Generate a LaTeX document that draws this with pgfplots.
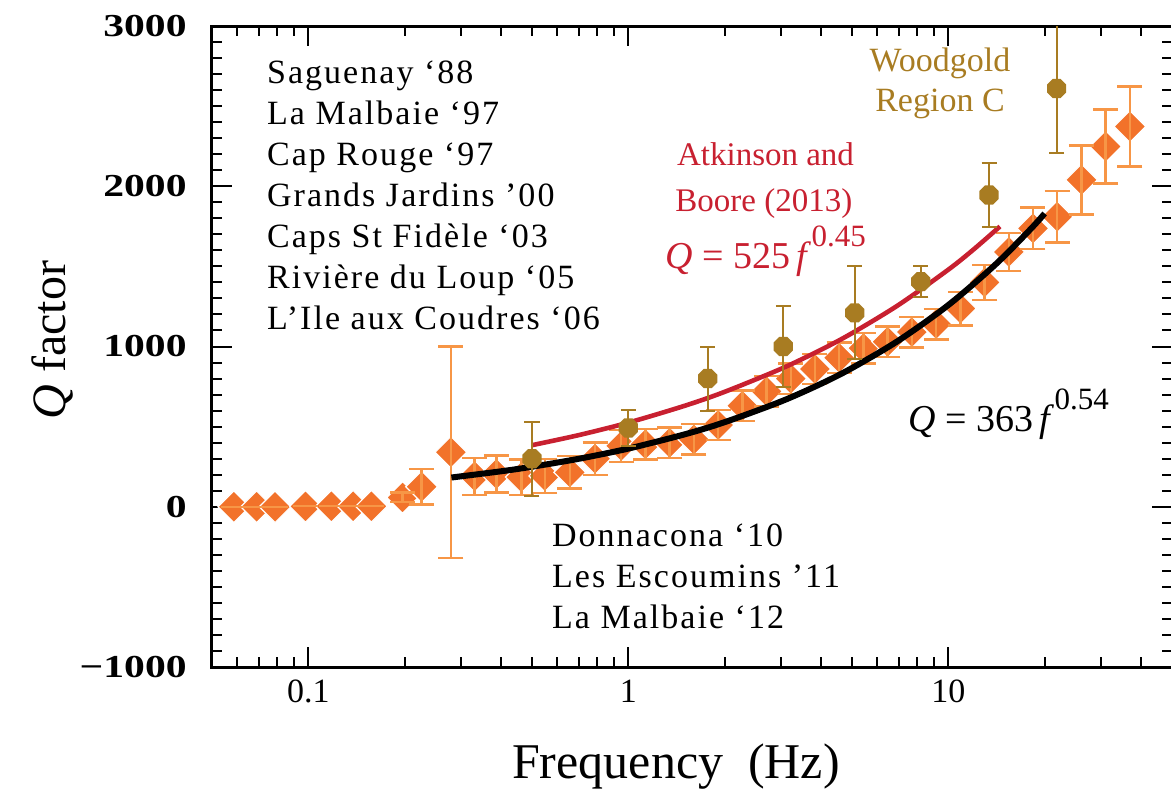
\documentclass[border=0pt]{standalone}
\usepackage{fontspec}
\setmainfont{Liberation Serif}
\newfontfamily\spaced[LetterSpace=6]{Liberation Serif}
\usepackage{graphicx}
\usepackage{pgfplots}
\usepackage{pgfplotstable}
\pgfplotsset{compat=1.18}
\definecolor{qorange}{RGB}{242,114,42}
\definecolor{qorangeeb}{RGB}{247,150,70}
\definecolor{qgold}{RGB}{168,124,34}
\definecolor{qred}{RGB}{200,32,48}
\pgfdeclareplotmark{oct}{%
  \pgfpathmoveto{\pgfpointpolar{22.5}{\pgfplotmarksize}}%
  \pgfpathlineto{\pgfpointpolar{67.5}{\pgfplotmarksize}}%
  \pgfpathlineto{\pgfpointpolar{112.5}{\pgfplotmarksize}}%
  \pgfpathlineto{\pgfpointpolar{157.5}{\pgfplotmarksize}}%
  \pgfpathlineto{\pgfpointpolar{202.5}{\pgfplotmarksize}}%
  \pgfpathlineto{\pgfpointpolar{247.5}{\pgfplotmarksize}}%
  \pgfpathlineto{\pgfpointpolar{292.5}{\pgfplotmarksize}}%
  \pgfpathlineto{\pgfpointpolar{337.5}{\pgfplotmarksize}}%
  \pgfpathclose\pgfusepathqfill}

\pgfplotstableread{
f Q e
0.0585 0 0
0.0689 0 0
0.0787 0 0
0.098 3 0
0.118 3 0
0.138 3 0
0.1575 3 0
0.197 58 30
0.226 125 110
0.279 340 660
0.331 190 115
0.387 205 115
0.463 185 110
0.548 192 105
0.656 215 100
0.787 300 100
0.950 380 100
1.131 390 95
1.346 400 95
1.602 420 95
1.908 510 95
2.271 630 95
2.703 720 95
3.217 800 95
3.830 860 95
4.560 930 95
5.428 990 95
6.462 1030 95
7.692 1090 95
9.157 1140 95
10.90 1237 105
12.98 1400 110
15.45 1590 120
18.39 1737 130
21.89 1810 160
26.06 2040 215
31.01 2248 230
36.92 2373 250
}\orangedata

\pgfplotstableread{
f Q e
0.5 300 230
1.0 492 110
1.77 800 200
3.05 1000 250
5.1 1210 290
8.2 1405 95
13.4 1945 200
21.8 2610 400
}\golddata

\begin{document}
\begin{tikzpicture}
\useasboundingbox (-106pt,-61pt) rectangle (479.5pt,333.5pt);
\begin{axis}[
  at={(0,0)}, anchor=south west,
  scale only axis, width=480pt, height=320.5pt,
  xmode=log, xmin=0.05, xmax=50, ymin=-1000, ymax=3000,
  xtick={0.1,1,10}, xticklabels={0.1,1,10},
  minor xtick={0.05,0.06,0.07,0.08,0.09,0.2,0.3,0.4,0.5,0.6,0.7,0.8,0.9,2,3,4,5,6,7,8,9,20,30,40,50},
  ytick={-1000,0,1000,2000,3000},
  yticklabels={\scalebox{1.3}[1]{−1000},\scalebox{1.3}[1]{0},\scalebox{1.3}[1]{1000},\scalebox{1.3}[1]{2000},\scalebox{1.3}[1]{3000}},
  minor y tick num=9,
  tick align=inside,
  major tick length=10pt, minor tick length=5pt,
  tick style={black, line width=1pt},
  axis line style={line width=1.5pt},
  xticklabel style={font=\fontsize{17}{17}\selectfont, anchor=base, yshift=-17.5pt, inner sep=0pt},
  yticklabel style={font=\bfseries\fontsize{16}{16}\selectfont, anchor=east, xshift=-12.5pt, inner sep=0pt},
  clip=true, clip marker paths=true,
]
% orange diamonds
\addplot[only marks, mark=square*, mark size=5.6pt,
  mark options={rotate=45, fill=qorange, draw=white, line width=0.6pt}]
  table[x=f, y=Q] {\orangedata};
\addplot[draw=none, mark=none,
  error bars/.cd, y dir=both, y explicit,
  error bar style={line width=1.2pt, draw=qorangeeb},
  error mark options={rotate=90, mark size=6.25pt, line width=1.2pt, draw=qorangeeb}]
  table[x=f, y=Q, y error=e] {\orangedata};
% Atkinson and Boore (2013) curve
\addplot[qred, line width=2.3pt, smooth] coordinates {
(0.5,384.3) (0.7,447.1) (1,525) (1.5,630.1) (2,717.2) (3,860.7) (4,979.7)
(5,1083.2) (7,1260.3) (10,1479.7) (12,1606.1) (14.5,1749.1)};
% fitted curve
\addplot[black, line width=3pt, smooth] coordinates {
(0.28,182.5) (0.4,221.3) (0.5,249.7) (0.7,299.4) (1,363) (1.5,451.9) (2,527.8)
(3,657.0) (4,767.4) (5,865.7) (7,1038.2) (10,1258.7) (14,1509.6) (18,1728.9) (20,1830)};
% gold points
\addplot[only marks, mark=oct, mark size=5.2pt, color=qgold,
  error bars/.cd, y dir=both, y explicit,
  error bar style={line width=1pt, color=qgold},
  error mark options={rotate=90, mark size=3.75pt, line width=1pt, color=qgold}]
  table[x=f, y=Q, y error=e] {\golddata};
\end{axis}
% axis labels
\node[anchor=base, font=\fontsize{25}{25}\selectfont] at (232pt,-55.5pt) {Frequency\ \ (Hz)};
\node[rotate=90, font=\fontsize{24}{24}\selectfont] at (-80pt,163.5pt) {\textit{Q} factor};
% site list
\begin{scope}[every node/.style={anchor=base west, inner sep=0pt, font=\spaced\fontsize{17}{17}\selectfont}]
\node at (27.35pt,291.85pt) {Saguenay ‘88};
\node at (27.35pt,271.35pt) {La Malbaie ‘97};
\node at (27.35pt,250.85pt) {Cap Rouge ‘97};
\node at (27.35pt,230.35pt) {Grands Jardins ’00};
\node at (27.35pt,209.85pt) {Caps St Fidèle ‘03};
\node at (27.35pt,189.35pt) {Rivière du Loup ‘05};
\node at (27.35pt,168.85pt) {L’Ile aux Coudres ‘06};
\node at (169.85pt,60.15pt) {Donnacona ‘10};
\node at (169.85pt,39.75pt) {Les Escoumins ’11};
\node at (169.85pt,19.35pt) {La Malbaie ‘12};
\end{scope}
% Atkinson and Boore
\node[anchor=base west, inner sep=0pt, text=qred, font=\fontsize{16.5}{16.5}\selectfont] at (232.35pt,251pt) {Atkinson and};
\node[anchor=base west, inner sep=0pt, text=qred, font=\fontsize{16.5}{16.5}\selectfont] at (231.5pt,227.65pt) {Boore (2013)};
\node[anchor=base west, inner sep=0pt, text=qred, font=\fontsize{19}{19}\selectfont] at (226.5pt,199.5pt) {\textit{Q} = 525\,\textit{f}\raisebox{11pt}{\fontsize{15.5}{15.5}\selectfont 0.45}};
\node[anchor=base west, inner sep=0pt, font=\fontsize{19}{19}\selectfont] at (348pt,117.65pt) {\textit{Q} = 363\,\textit{f}\raisebox{11pt}{\fontsize{15.5}{15.5}\selectfont 0.54}};
% Woodgold
\node[anchor=base, inner sep=0pt, text=qgold, font=\fontsize{17}{17}\selectfont] at (364pt,297.65pt) {Woodgold};
\node[anchor=base, inner sep=0pt, text=qgold, font=\fontsize{17}{17}\selectfont] at (364pt,277.65pt) {Region C};
\end{tikzpicture}
\end{document}
